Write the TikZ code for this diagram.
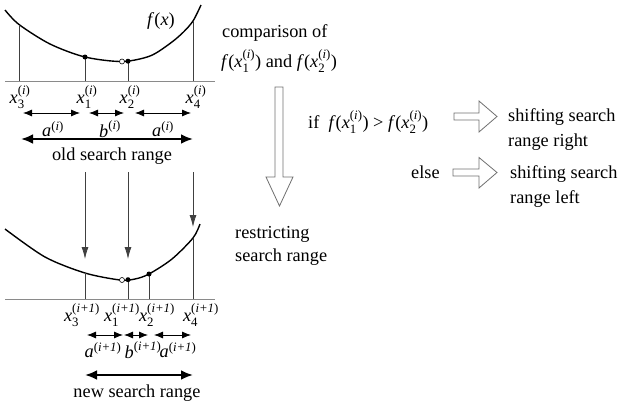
\documentclass[tikz,border=0pt]{standalone}
\usepackage{amsmath}
\usepackage{fontspec}
\setmainfont{Liberation Serif}
\newfontfamily\tnr{Liberation Serif}
\usetikzlibrary{arrows.meta}
\definecolor{axisgray}{HTML}{8A8A8A}
\definecolor{linegray}{HTML}{404040}
\definecolor{hollowgray}{HTML}{707070}
\newcommand\xv[2]{$\textit{x}_{\text{\tnr #1}}^{\text{\tnr(\textit{#2})}}$}
\newcommand\sv[2]{$\textit{#1}^{\text{\tnr(\textit{#2})}}$}
\newcommand\fx[2]{\textit{f}(\xv{#1}{#2})}
\tikzset{
  txt/.style={inner sep=0pt, font=\tnr\fontsize{18.3}{22}\selectfont},
  axisline/.style={draw=axisgray, line width=1pt},
  vline/.style={draw=linegray, line width=0.8pt},
  curveline/.style={draw=black, line width=1.4pt},
  dbl/.style={draw=black, line width=0.8pt, {Latex[length=9pt,width=7pt]}-{Latex[length=9pt,width=7pt]}},
  thickdbl/.style={draw=black, line width=2.4pt, {Latex[length=12pt,width=10pt]}-{Latex[length=12pt,width=10pt]}},
  downarr/.style={draw=linegray, line width=0.8pt, -{Latex[length=12pt,width=7pt]}},
  hollow/.style={draw=hollowgray, line width=0.8pt, fill=white},
}
\begin{document}
\begin{tikzpicture}[x=1pt,y=-1pt]
\useasboundingbox (0,0) rectangle (619,407);
% ---------- top panel ----------
\draw[axisline] (5,81) -- (215,81);
\draw[curveline] plot[smooth] coordinates {(5,10) (19,24.5) (50,44) (85,57) (122,61.5) (150,56) (170,43.5) (183,32.5) (193,21) (201,5)};
\coordinate (t3) at (19,81);
\coordinate (t1) at (85,81);
\coordinate (t2) at (128,81);
\coordinate (t4) at (193,81);
\draw[vline] (t3) -- (19,24.5);
\draw[vline] (t1) -- (85,57);
\draw[vline] (t2) -- (128,61.2);
\draw[vline] (t4) -- (193,21);
\fill (85,57) circle (2.5);
\fill (128,61.2) circle (2.5);
\draw[fill=white, line width=0.6pt] (122,61.5) circle (2.5);
\node[txt, anchor=base] (fx) at (161,25) {\textit{f}(\textit{x})};
\node[txt] (lx3) at (20,97) {\xv{3}{i}};
\node[txt] (lx1) at (87,97) {\xv{1}{i}};
\node[txt] (lx2) at (130,97) {\xv{2}{i}};
\node[txt] (lx4) at (196,97) {\xv{4}{i}};
\coordinate (ra1) at (23,113); \coordinate (rb1) at (80,113);
\coordinate (ra2) at (89,113); \coordinate (rb2) at (124,113);
\coordinate (ra3) at (135,113); \coordinate (rb3) at (191,113);
\draw[dbl] (ra1) -- (rb1);
\draw[dbl] (ra2) -- (rb2);
\draw[dbl] (ra3) -- (rb3);
\node[txt] (la1) at (53,129.5) {\sv{a}{i}};
\node[txt] (lb1) at (110,129.5) {\sv{b}{i}};
\node[txt] (la2) at (163,129.5) {\sv{a}{i}};
\coordinate (os) at (21,139); \coordinate (oe) at (193,139);
\draw[thickdbl] (os) -- (oe);
\node[txt, anchor=base] (old) at (112,160) {old search range};
% ---------- connecting arrows ----------
\coordinate (d1s) at (85,172); \coordinate (d1e) at (85,259);
\coordinate (d2s) at (128,172); \coordinate (d2e) at (128,259);
\coordinate (d3s) at (193,172); \coordinate (d3e) at (193,227);
\draw[downarr] (d1s) -- (d1e);
\draw[downarr] (d2s) -- (d2e);
\draw[downarr] (d3s) -- (d3e);
% ---------- bottom panel ----------
\draw[axisline] (5,299) -- (215,299);
\draw[curveline] plot[smooth] coordinates {(5,229) (45,257) (85,273) (120,280) (135,279) (149,274) (172,259) (193,238) (200,224)};
\coordinate (b3) at (85,299);
\coordinate (b1) at (128,299);
\coordinate (b2) at (149,299);
\coordinate (b4) at (193,299);
\draw[vline] (b3) -- (85,273);
\draw[vline] (b1) -- (128,279.7);
\draw[vline] (b2) -- (149,274);
\draw[vline] (b4) -- (193,238);
\fill (128,279.7) circle (2.5);
\fill (149,274) circle (2.5);
\draw[fill=white, line width=0.6pt] (122,280) circle (2.5);
\node[txt] (mx3) at (82,315) {\xv{3}{i+1}};
\node[txt] (mx1) at (122,315) {\xv{1}{i+1}};
\node[txt] (mx2) at (157,315) {\xv{2}{i+1}};
\node[txt] (mx4) at (201,315) {\xv{4}{i+1}};
\coordinate (sa1) at (87,335); \coordinate (sb1) at (123,335);
\coordinate (sa2) at (124,335); \coordinate (sb2) at (148,335);
\coordinate (sa3) at (154,335); \coordinate (sb3) at (191,335);
\draw[dbl] (sa1) -- (sb1);
\draw[dbl] (sa2) -- (sb2);
\draw[dbl] (sa3) -- (sb3);
\node[txt] (ma1) at (103,350.5) {\sv{a}{i+1}};
\node[txt] (mb1) at (143,350.5) {\sv{b}{i+1}};
\node[txt] (ma2) at (178,350.5) {\sv{a}{i+1}};
\coordinate (ns) at (85,375); \coordinate (ne) at (193,375);
\draw[thickdbl] (ns) -- (ne);
\node[txt, anchor=base] (new) at (137,397) {new search range};
% ---------- middle and right ----------
\node[txt, anchor=base west] (cmp1) at (222,37) {comparison of};
\node[txt, anchor=base west] (cmp2) at (221,67) {\fx{1}{i} and \fx{2}{i}};
\draw[hollow] (275,87) -- (283,87) -- (283,177) -- (293,177) -- (279.5,206) -- (266,177) -- (275,177) -- cycle;
\node[txt, anchor=base west] (res1) at (235,238) {restricting};
\node[txt, anchor=base west] (res2) at (235,261) {search range};
\node[txt, anchor=base west] (cond) at (308,128) {if\ \ \fx{1}{i} > \fx{2}{i}};
\draw[hollow] (454,113) -- (479,113) -- (479,101) -- (497,116.5) -- (479,132) -- (479,120) -- (454,120) -- cycle;
\node[txt, anchor=base west] (sr1) at (508,121) {shifting search};
\node[txt, anchor=base west] (sr2) at (508,146) {range right};
\node[txt, anchor=base west] (els) at (411,178) {else};
\draw[hollow] (453,169) -- (479,169) -- (479,157.5) -- (497,172.5) -- (479,188) -- (479,176) -- (453,176) -- cycle;
\node[txt, anchor=base west] (sl1) at (510,178) {shifting search};
\node[txt, anchor=base west] (sl2) at (510,203) {range left};
\end{tikzpicture}
\end{document}
